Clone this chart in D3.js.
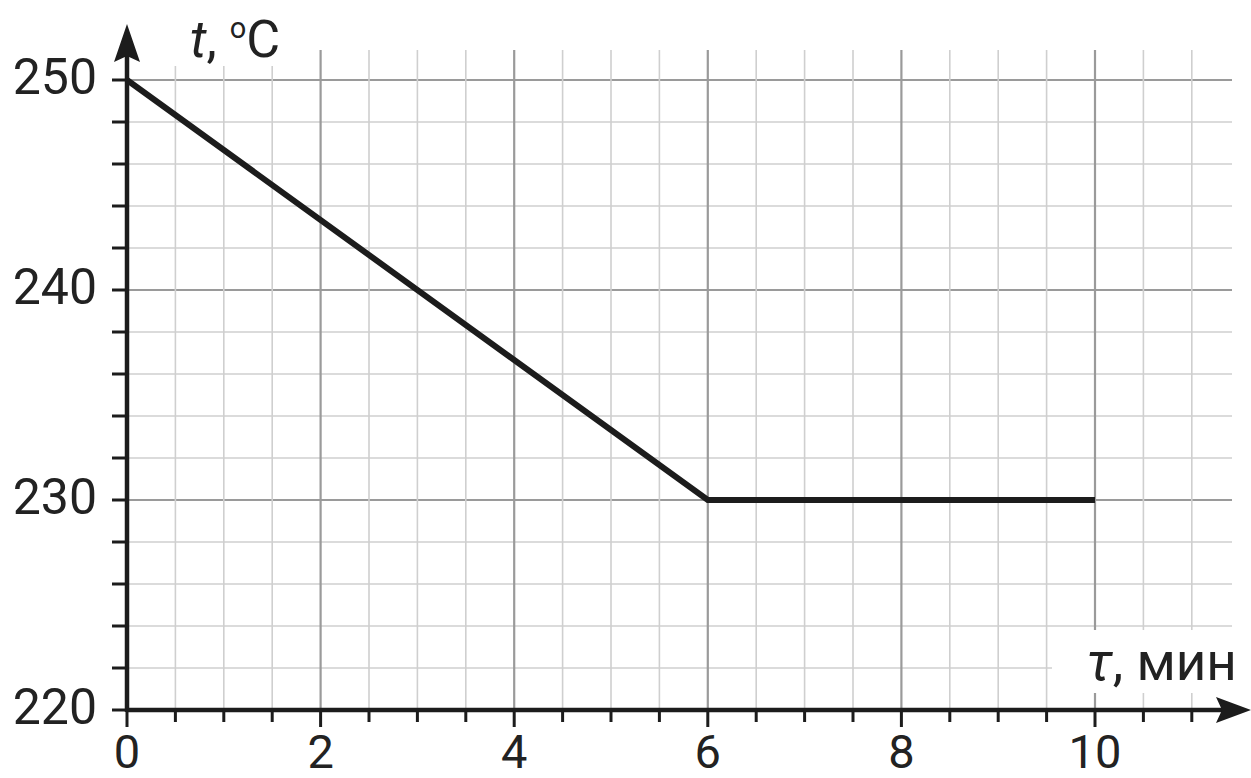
<!DOCTYPE html>
<html><head><meta charset="utf-8">
<script src="https://cdn.jsdelivr.net/npm/d3@7"></script>
<style>html,body{margin:0;padding:0;background:#fff;}svg{display:block;}</style>
</head><body>
<svg id="c" width="1251" height="778"></svg>
<script>
const timeMin = [0, 6, 10];
const tempC = [250, 230, 230];
const xTickLabels = [0, 2, 4, 6, 8, 10];
const yTickLabels = [220, 230, 240, 250];

const svg = d3.select("#c");
const x = d3.scaleLinear().domain([0, 10]).range([127, 1095]);
const y = d3.scaleLinear().domain([220, 250]).range([710, 80]);
const font = "Roboto, 'Noto Sans', sans-serif";

const vGrid = d3.range(0.5, 11.01, 0.5);
const hGrid = d3.range(222, 250.01, 2);

// grid
svg.append("g").selectAll("line").data(hGrid).join("line")
  .attr("x1", x(0)).attr("x2", 1232)
  .attr("y1", d => y(d)).attr("y2", d => y(d))
  .attr("stroke", d => d % 10 === 0 ? "#9a9a9a" : "#cfcfcf")
  .attr("stroke-width", d => d % 10 === 0 ? 2.2 : 1.6);
svg.append("g").selectAll("line").data(vGrid).join("line")
  .attr("x1", d => x(d)).attr("x2", d => x(d))
  .attr("y1", 50).attr("y2", y(220))
  .attr("stroke", d => d % 2 === 0 ? "#9a9a9a" : "#cfcfcf")
  .attr("stroke-width", d => d % 2 === 0 ? 2.2 : 1.6);

// white boxes behind axis labels
svg.append("rect").attr("x", 140).attr("y", 15).attr("width", 170).attr("height", 51).attr("fill", "#fff");
svg.append("rect").attr("x", 1052).attr("y", 630).attr("width", 199).attr("height", 63).attr("fill", "#fff");

// data line
svg.append("path")
  .datum(timeMin.map((t, i) => [t, tempC[i]]))
  .attr("d", d3.line().x(d => x(d[0])).y(d => y(d[1])))
  .attr("fill", "none").attr("stroke", "#1c1c1c").attr("stroke-width", 6)
  .attr("stroke-linejoin", "miter");

// axes
const ax = "#1c1c1c";
svg.append("line").attr("x1", x(0)).attr("x2", 1222).attr("y1", y(220)).attr("y2", y(220))
  .attr("stroke", ax).attr("stroke-width", 4.5);
svg.append("line").attr("x1", x(0)).attr("x2", x(0)).attr("y1", y(220) + 2).attr("y2", 55)
  .attr("stroke", ax).attr("stroke-width", 4.5);
svg.append("path").attr("d", "M1251,710 L1216,697 L1222,710 L1216,723 Z").attr("fill", ax);
svg.append("path").attr("d", "M127,24 L114,62 L127,56 L140,62 Z").attr("fill", ax);

// x ticks
svg.append("g").selectAll("line").data(d3.range(0, 11.01, 0.5)).join("line")
  .attr("x1", d => x(d)).attr("x2", d => x(d))
  .attr("y1", y(220)).attr("y2", d => d % 2 === 0 ? 727 : 722)
  .attr("stroke", ax).attr("stroke-width", 3);
// y ticks
svg.append("g").selectAll("line").data(d3.range(220, 250.01, 2)).join("line")
  .attr("x1", 112).attr("x2", x(0))
  .attr("y1", d => y(d)).attr("y2", d => y(d))
  .attr("stroke", ax).attr("stroke-width", 3);

// tick labels
svg.append("g").selectAll("text").data(xTickLabels).join("text")
  .attr("x", d => x(d)).attr("y", 768).attr("text-anchor", "middle")
  .attr("font-family", font).attr("font-size", 47).attr("fill", "#222")
  .text(d => d);
svg.append("g").selectAll("text").data(yTickLabels).join("text")
  .attr("x", 97).attr("y", d => y(d) + 14).attr("text-anchor", "end")
  .attr("font-family", font).attr("font-size", 50).attr("fill", "#222")
  .text(d => d);

// axis titles
const yt = svg.append("text").attr("x", 190).attr("y", 57)
  .attr("font-family", font).attr("font-size", 52).attr("fill", "#222");
yt.append("tspan").attr("font-style", "italic").text("t");
yt.append("tspan").text(", ");
yt.append("tspan").attr("font-size", 29).attr("dy", -19).text("o");
yt.append("tspan").attr("dy", 19).text("C");

const xt = svg.append("text").attr("x", 1086).attr("y", 680)
  .attr("font-family", font).attr("font-size", 53).attr("fill", "#222");
xt.append("tspan").attr("font-style", "italic").text("τ");
xt.append("tspan").text(", мин");
</script>
</body></html>
